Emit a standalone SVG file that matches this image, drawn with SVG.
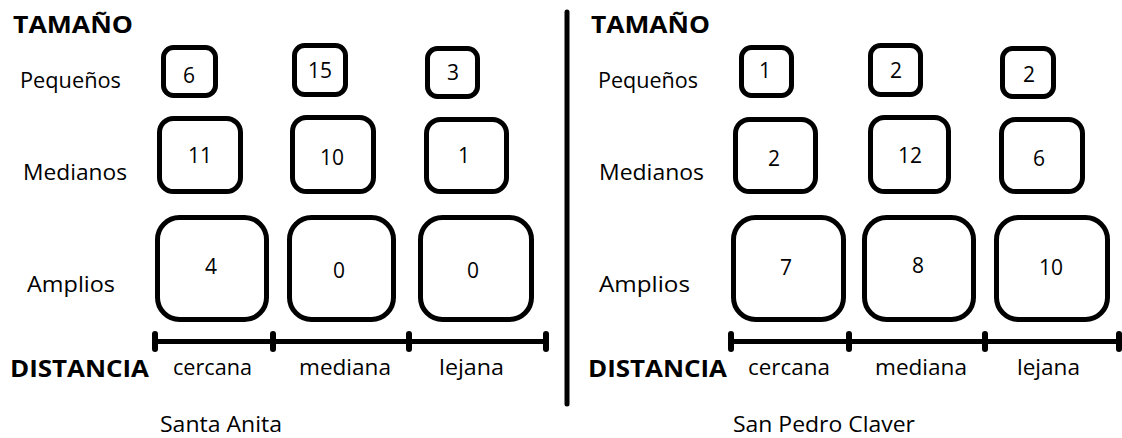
<svg xmlns="http://www.w3.org/2000/svg" width="1122" height="438" viewBox="0 0 1122 438">
<style>
.bg{fill:#ffffff}
.box{fill:#ffffff;stroke:#000;stroke-width:5}
.num{font-family:"Open Sans","Liberation Sans",sans-serif;font-size:21px;fill:#000;text-anchor:middle}
.lbl{font-family:"Open Sans","Liberation Sans",sans-serif;font-size:21px;fill:#000}
.ttl{font-family:"Open Sans","Liberation Sans",sans-serif;font-size:24px;font-weight:bold;fill:#000}
.axis{stroke:#000;stroke-width:5;fill:none}
.tick{stroke:#000;stroke-width:6;stroke-linecap:round}
</style>
<rect class="bg" x="0" y="0" width="1122" height="438"/>

<g id="left-panel">
<text class="ttl" x="13" y="33" textLength="120" lengthAdjust="spacingAndGlyphs">TAMAÑO</text>
<text class="lbl" x="20" y="88" textLength="101" lengthAdjust="spacingAndGlyphs">Pequeños</text>
<text class="lbl" x="23" y="180" textLength="104" lengthAdjust="spacingAndGlyphs">Medianos</text>
<text class="lbl" x="27" y="292" textLength="88" lengthAdjust="spacingAndGlyphs">Amplios</text>
<text class="ttl" x="10" y="377" textLength="139" lengthAdjust="spacingAndGlyphs">DISTANCIA</text>
<text class="lbl" x="173" y="375" textLength="79" lengthAdjust="spacingAndGlyphs">cercana</text>
<text class="lbl" x="299" y="375" textLength="92" lengthAdjust="spacingAndGlyphs">mediana</text>
<text class="lbl" x="439" y="375" textLength="65" lengthAdjust="spacingAndGlyphs">lejana</text>
<text class="lbl" x="160" y="432" textLength="122" lengthAdjust="spacingAndGlyphs">Santa Anita</text>
</g>

<g id="l-p-cercana"><rect class="box" x="163.5" y="47.5" width="52" height="48" rx="10"/><text class="num" x="189" y="83">6</text></g>
<g id="l-p-mediana"><rect class="box" x="294.5" y="45.5" width="51" height="49" rx="10"/><text class="num" x="320" y="78">15</text></g>
<g id="l-p-lejana"><rect class="box" x="427.5" y="48.5" width="50" height="48" rx="10"/><text class="num" x="453" y="80">3</text></g>
<g id="l-m-cercana"><rect class="box" x="159.5" y="118.5" width="81" height="73" rx="14"/><text class="num" x="200" y="163">11</text></g>
<g id="l-m-mediana"><rect class="box" x="292.5" y="117.5" width="81" height="74" rx="14"/><text class="num" x="332" y="165">10</text></g>
<g id="l-m-lejana"><rect class="box" x="426.5" y="119.5" width="80" height="72" rx="14"/><text class="num" x="464" y="163">1</text></g>
<g id="l-a-cercana"><rect class="box" x="157.5" y="217.5" width="109" height="102" rx="22"/><text class="num" x="211" y="274">4</text></g>
<g id="l-a-mediana"><rect class="box" x="289.5" y="217.5" width="104" height="102" rx="22"/><text class="num" x="339" y="278">0</text></g>
<g id="l-a-lejana"><rect class="box" x="420.5" y="217.5" width="111" height="102" rx="22"/><text class="num" x="473" y="278">0</text></g>

<g id="right-panel">
<text class="ttl" x="591" y="33" textLength="119" lengthAdjust="spacingAndGlyphs">TAMAÑO</text>
<text class="lbl" x="598" y="88" textLength="100" lengthAdjust="spacingAndGlyphs">Pequeños</text>
<text class="lbl" x="599" y="180" textLength="105" lengthAdjust="spacingAndGlyphs">Medianos</text>
<text class="lbl" x="599" y="292" textLength="91" lengthAdjust="spacingAndGlyphs">Amplios</text>
<text class="ttl" x="588" y="377" textLength="139" lengthAdjust="spacingAndGlyphs">DISTANCIA</text>
<text class="lbl" x="748" y="375" textLength="82" lengthAdjust="spacingAndGlyphs">cercana</text>
<text class="lbl" x="875" y="375" textLength="92" lengthAdjust="spacingAndGlyphs">mediana</text>
<text class="lbl" x="1017" y="375" textLength="63" lengthAdjust="spacingAndGlyphs">lejana</text>
<text class="lbl" x="733" y="432" textLength="182" lengthAdjust="spacingAndGlyphs">San Pedro Claver</text>
</g>

<g id="r-p-cercana"><rect class="box" x="741.5" y="47.5" width="50" height="48" rx="10"/><text class="num" x="765" y="78">1</text></g>
<g id="r-p-mediana"><rect class="box" x="870.5" y="45.5" width="50" height="49" rx="10"/><text class="num" x="896" y="78">2</text></g>
<g id="r-p-lejana"><rect class="box" x="1002.5" y="48.5" width="51" height="48" rx="10"/><text class="num" x="1029" y="82">2</text></g>
<g id="r-m-cercana"><rect class="box" x="735.5" y="119.5" width="80" height="72" rx="14"/><text class="num" x="774" y="166">2</text></g>
<g id="r-m-mediana"><rect class="box" x="870.5" y="117.5" width="78" height="74" rx="14"/><text class="num" x="910" y="163">12</text></g>
<g id="r-m-lejana"><rect class="box" x="1001.5" y="119.5" width="81" height="72" rx="14"/><text class="num" x="1039" y="166">6</text></g>
<g id="r-a-cercana"><rect class="box" x="733.5" y="217.5" width="110" height="102" rx="22"/><text class="num" x="786" y="275">7</text></g>
<g id="r-a-mediana"><rect class="box" x="864.5" y="217.5" width="109" height="102" rx="22"/><text class="num" x="918" y="273">8</text></g>
<g id="r-a-lejana"><rect class="box" x="996.5" y="217.5" width="111" height="102" rx="22"/><text class="num" x="1051" y="275">10</text></g>

<g id="connectors">
<line class="axis" x1="155" y1="341.5" x2="546" y2="341.5"/>
<line class="tick" x1="155" y1="334" x2="155" y2="349"/>
<line class="tick" x1="273" y1="334" x2="273" y2="349"/>
<line class="tick" x1="409" y1="334" x2="409" y2="349"/>
<line class="tick" x1="546" y1="334" x2="546" y2="349"/>
<line class="axis" x1="731" y1="341.5" x2="1119" y2="341.5"/>
<line class="tick" x1="731" y1="334" x2="731" y2="349"/>
<line class="tick" x1="849" y1="334" x2="849" y2="349"/>
<line class="tick" x1="985" y1="334" x2="985" y2="349"/>
<line class="tick" x1="1119" y1="334" x2="1119" y2="349"/>
<line x1="567" y1="12" x2="567" y2="404" stroke="#000" stroke-width="5" stroke-linecap="round"/>
</g>
</svg>
